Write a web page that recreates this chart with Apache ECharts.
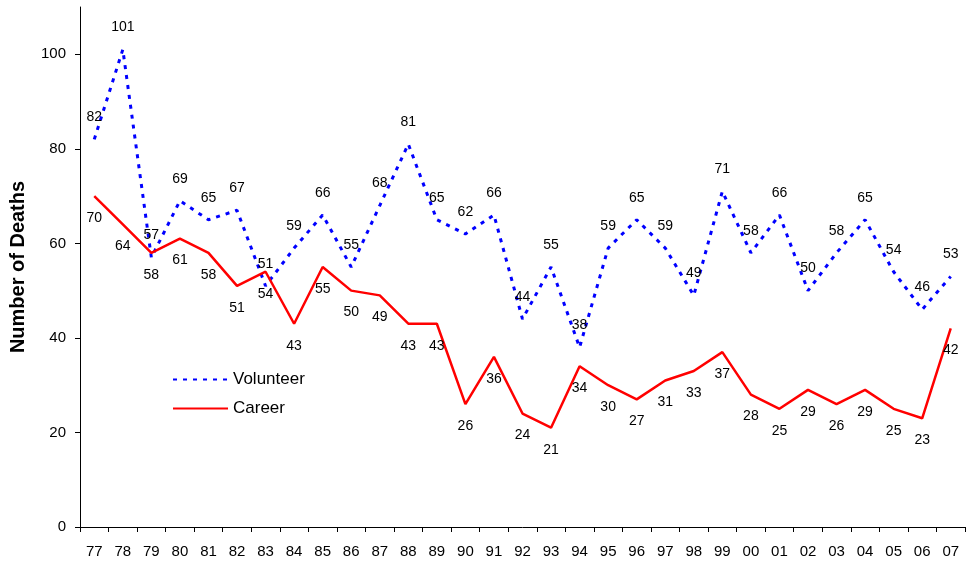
<!DOCTYPE html>
<html>
<head>
<meta charset="utf-8">
<script src="https://cdn.jsdelivr.net/npm/echarts@6/dist/echarts.min.js"></script>
<style>html,body{margin:0;padding:0;background:#fff}#c{width:966px;height:566px}</style>
</head>
<body>
<div id="c"></div>
<script>
const years = ['77','78','79','80','81','82','83','84','85','86','87','88','89','90','91','92','93','94','95','96','97','98','99','00','01','02','03','04','05','06','07'];
const volunteer = [82,101,57,69,65,67,51,59,66,55,68,81,65,62,66,44,55,38,59,65,59,49,71,58,66,50,58,65,54,46,53];
const career = [70,64,58,61,58,51,54,43,55,50,49,43,43,26,36,24,21,34,30,27,31,33,37,28,25,29,26,29,25,23,42];
const yTicks = [0,20,40,60,80,100];
const yTitle = 'Number of Deaths';

const FONT = '"Liberation Sans", Arial, sans-serif';
const chart = echarts.init(document.getElementById('c'));
chart.setOption({
  animation: false,
  backgroundColor: '#fff',
  textStyle: { fontFamily: FONT },
  grid: { left: 78, right: 1, top: 7, bottom: 39, containLabel: false },
  legend: {
    orient: 'vertical',
    left: 167, top: 366,
    itemWidth: 55, itemHeight: 14, itemGap: 12,
    itemStyle: { opacity: 0 },
    textStyle: { fontFamily: FONT, fontSize: 17, color: '#000' },
    data: ['Volunteer', 'Career']
  },
  xAxis: {
    type: 'category',
    data: years,
    boundaryGap: true,
    axisLine: { lineStyle: { color: '#000', width: 1 } },
    axisTick: { show: true, length: 5, lineStyle: { color: '#000' } },
    axisLabel: { color: '#000', fontSize: 15, margin: 17, fontFamily: FONT, interval: 0 },
    splitLine: { show: false }
  },
  yAxis: {
    type: 'value',
    min: 0, max: 110, interval: 20,
    name: yTitle,
    nameLocation: 'middle',
    nameGap: 52,
    nameRotate: 90,
    nameTextStyle: { fontFamily: FONT, fontSize: 20, fontWeight: 'bold', color: '#000' },
    axisLine: { show: true, lineStyle: { color: '#000', width: 1 } },
    axisTick: { show: true, length: 5, lineStyle: { color: '#000' }, customValues: yTicks },
    axisLabel: { color: '#000', fontSize: 15, margin: 14, fontFamily: FONT, customValues: yTicks },
    splitLine: { show: false }
  },
  series: [
    {
      name: 'Volunteer', type: 'line', data: volunteer,
      symbol: 'circle', symbolSize: 0, showSymbol: true,
      lineStyle: { color: '#0000ff', width: 3, type: [4, 6] },
      itemStyle: { color: '#0000ff' },
      label: { show: true, position: 'top', distance: 15, color: '#000', fontSize: 14, fontFamily: FONT },
      z: 2
    },
    {
      name: 'Career', type: 'line', data: career,
      symbol: 'circle', symbolSize: 0, showSymbol: true,
      lineStyle: { color: '#ff0000', width: 2.5, type: 'solid' },
      itemStyle: { color: '#ff0000' },
      label: { show: true, position: 'bottom', distance: 15, color: '#000', fontSize: 14, fontFamily: FONT },
      z: 3
    }
  ]
});
</script>
</body>
</html>
